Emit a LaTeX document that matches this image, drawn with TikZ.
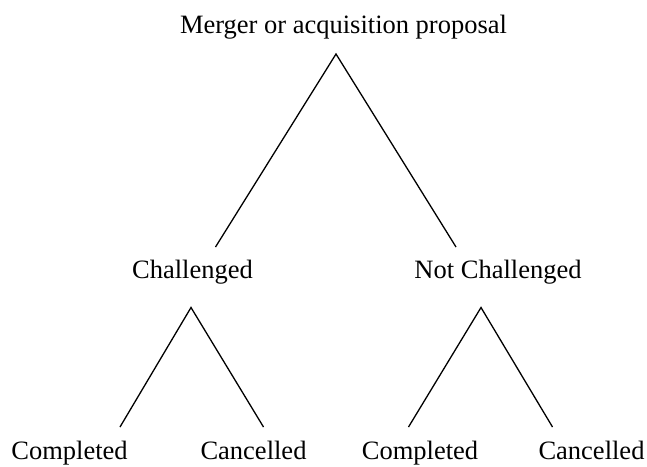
\documentclass[tikz,border=0pt]{standalone}
\usepackage{fontspec}
\setmainfont{Liberation Serif}
\begin{document}
\begin{tikzpicture}[x=1pt,y=-1pt,
  lbl/.style={anchor=base,inner sep=0pt,font=\fontsize{26.5}{30}\selectfont},
  edge/.style={line width=1.3pt,line cap=butt}]
\useasboundingbox (0,0) rectangle (647,466);
% labels
\node[lbl] (root) at (343.5,33) {Merger or acquisition proposal};
\node[lbl] (ch) at (192.5,278) {Challenged};
\node[lbl] (nch) at (498,278) {Not Challenged};
\node[lbl] (c1) at (69.5,459.5) {Completed};
\node[lbl] (x1) at (253.5,459.5) {Cancelled};
\node[lbl] (c2) at (420,459.5) {Completed};
\node[lbl] (x2) at (591.5,459.5) {Cancelled};
% branch points
\coordinate (rtop) at (336,54);
\coordinate (rl) at (215.5,247);
\coordinate (rr) at (456,247);
\coordinate (chtop) at (191,307.5);
\coordinate (chl) at (120,427);
\coordinate (chr) at (263.5,427);
\coordinate (nchtop) at (481,307.5);
\coordinate (nchl) at (408.5,427);
\coordinate (nchr) at (552.5,427);
% connectors
\draw[edge] (rl) -- (rtop) -- (rr);
\draw[edge] (chl) -- (chtop) -- (chr);
\draw[edge] (nchl) -- (nchtop) -- (nchr);
\end{tikzpicture}
\end{document}
